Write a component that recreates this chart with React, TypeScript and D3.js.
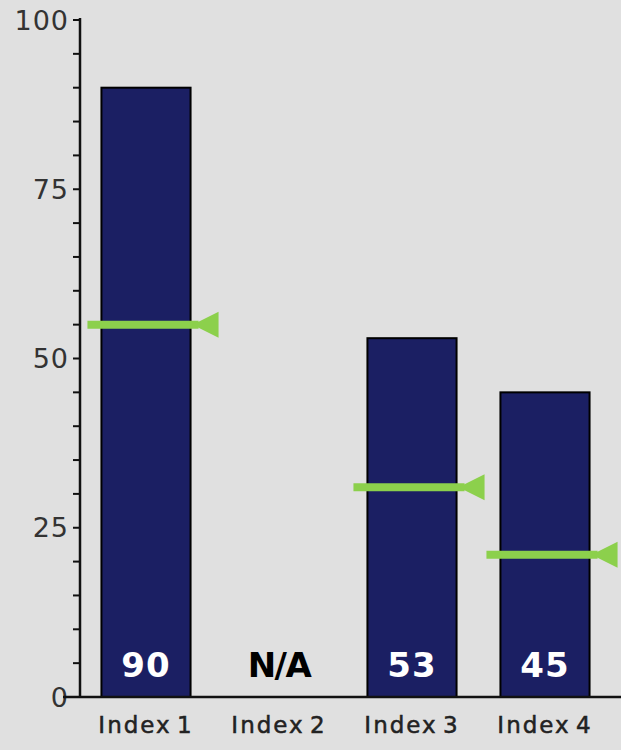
import React, { useEffect, useRef } from 'react';
import * as d3 from 'd3';

const categories = ['Index 1', 'Index 2', 'Index 3', 'Index 4'];
const values: (number | null)[] = [90, null, 53, 45];
const targets: (number | null)[] = [55, null, 31, 21];
const yTicks = [0, 25, 50, 75, 100];

const W = 621;
const H = 750;

export default () => {
  const svgRef = useRef<SVGSVGElement>(null);

  useEffect(() => {
    if (!svgRef.current) return;
    const svg = d3.select(svgRef.current);
    svg.selectAll('*').remove();

    svg.append('rect').attr('width', W).attr('height', H).attr('fill', '#e0e0e0');

    const x = d3.scaleBand<string>()
      .domain(categories)
      .range([79.5, 611.5])
      .paddingInner(0.33)
      .paddingOuter(0.165);

    const y = d3.scaleLinear().domain([0, 100]).range([697, 20]);

    const font = 'DejaVu Sans, Verdana, sans-serif';

    // bars
    const data = categories.map((c, i) => ({ c, v: values[i], t: targets[i] }));
    svg.selectAll('rect.bar')
      .data(data.filter(d => d.v !== null))
      .enter()
      .append('rect')
      .attr('class', 'bar')
      .attr('x', d => x(d.c)!)
      .attr('y', d => y(d.v as number))
      .attr('width', x.bandwidth())
      .attr('height', d => y(0) - y(d.v as number))
      .attr('fill', '#1b1f63')
      .attr('stroke', '#000')
      .attr('stroke-width', 2);

    // minor + major ticks on the y axis
    const minor = d3.range(0, 101, 5);
    svg.append('g')
      .selectAll('line')
      .data(minor)
      .enter()
      .append('line')
      .attr('x1', 73)
      .attr('x2', 80)
      .attr('y1', d => y(d))
      .attr('y2', d => y(d))
      .attr('stroke', '#111')
      .attr('stroke-width', 2);

    svg.append('g')
      .selectAll('text')
      .data(yTicks)
      .enter()
      .append('text')
      .attr('x', 69)
      .attr('y', d => y(d))
      .attr('dy', '0.36em')
      .attr('text-anchor', 'end')
      .attr('font-family', font)
      .attr('font-size', 27)
      .attr('letter-spacing', 1)
      .attr('fill', '#333')
      .text(d => d);

    // axis lines
    svg.append('line')
      .attr('x1', 80).attr('x2', 80)
      .attr('y1', y(100) - 2).attr('y2', y(0))
      .attr('stroke', '#111').attr('stroke-width', 2.5);
    svg.append('line')
      .attr('x1', 63).attr('x2', W)
      .attr('y1', y(0)).attr('y2', y(0))
      .attr('stroke', '#111').attr('stroke-width', 2.5);

    // target markers
    const marks = svg.append('g');
    data.filter(d => d.t !== null).forEach(d => {
      const x0 = x(d.c)!;
      const x1 = x0 + x.bandwidth();
      const ty = y(d.t as number);
      marks.append('line')
        .attr('x1', x0 - 14).attr('x2', x1 + 8)
        .attr('y1', ty).attr('y2', ty)
        .attr('stroke', '#8cd04c').attr('stroke-width', 8);
      marks.append('path')
        .attr('d', `M${x1 + 2},${ty} L${x1 + 28},${ty - 13} L${x1 + 28},${ty + 13} Z`)
        .attr('fill', '#8cd04c');
    });

    // value labels
    svg.append('g')
      .selectAll('text')
      .data(data)
      .enter()
      .append('text')
      .attr('x', d => x(d.c)! + x.bandwidth() / 2)
      .attr('y', 677)
      .attr('text-anchor', 'middle')
      .attr('font-family', font)
      .attr('font-weight', 'bold')
      .attr('font-size', 34)
      .attr('letter-spacing', d => (d.v === null ? -1.5 : 1))
      .attr('fill', d => (d.v === null ? '#000' : '#fff'))
      .text(d => (d.v === null ? 'N/A' : String(d.v)));

    // category labels
    svg.append('g')
      .selectAll('text')
      .data(categories)
      .enter()
      .append('text')
      .attr('x', d => x(d)! + x.bandwidth() / 2)
      .attr('y', 733)
      .attr('text-anchor', 'middle')
      .attr('font-family', font)
      .attr('font-size', 23)
      .attr('letter-spacing', 2)
      .attr('word-spacing', -4)
      .attr('fill', '#222')
      .attr('stroke', '#222')
      .attr('stroke-width', 0.5)
      .text(d => d);
  }, []);

  return (
    <svg
      ref={svgRef}
      width={W}
      height={H}
      style={{ position: 'absolute', left: 0, top: 0, display: 'block' }}
    />
  );
};
